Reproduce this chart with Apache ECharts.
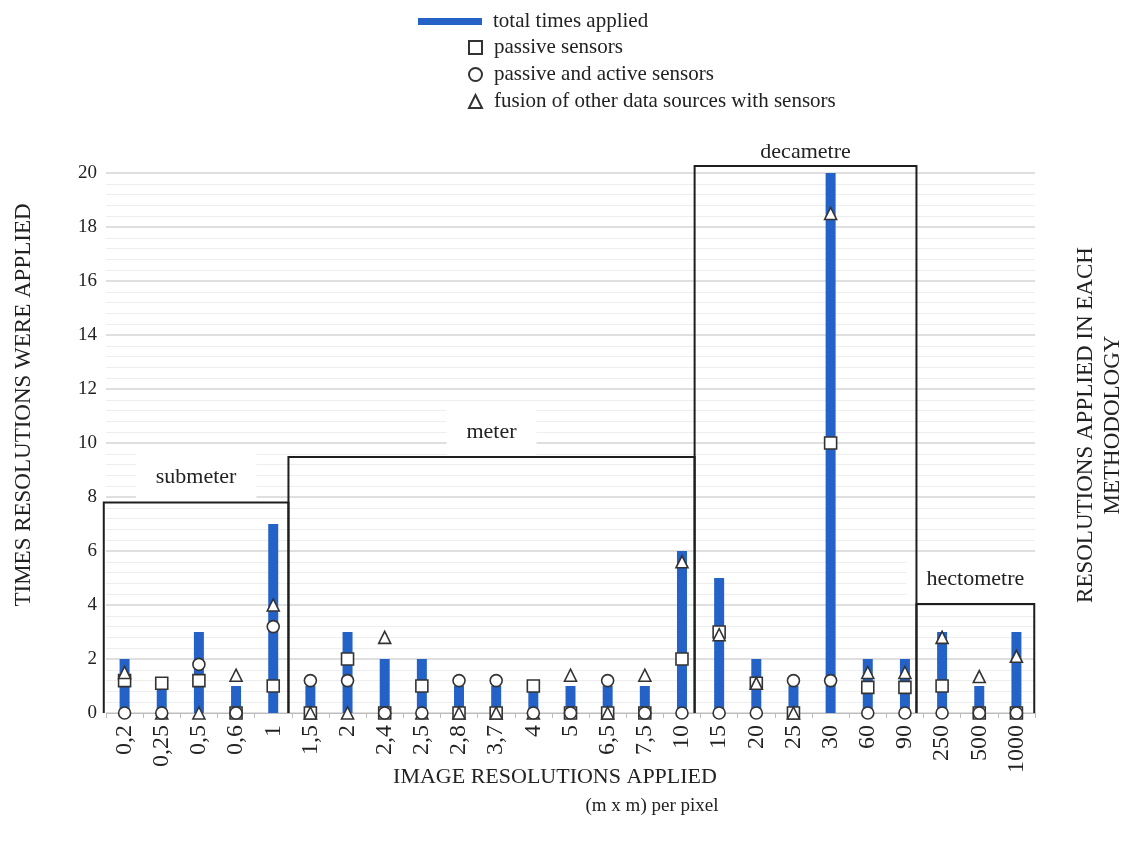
<!DOCTYPE html>
<html>
<head>
<meta charset="utf-8">
<script src="https://cdn.jsdelivr.net/npm/echarts@6/dist/echarts.min.js"></script>
<style>html,body{margin:0;padding:0;background:#fff;}#chart{width:1121px;height:850px;}</style>
</head>
<body>
<div id="chart"></div>
<script>
const categories = ['0,2','0,25','0,5','0,6','1','1,5','2','2,4','2,5','2,8','3,7','4','5','6,5','7,5','10','15','20','25','30','60','90','250','500','1000'];
const totalTimes = [2,1,3,1,7,1,3,2,2,1,1,1,1,1,1,6,5,2,1,20,2,2,3,1,3];
const passive = [1.2,1.1,1.2,0,1.0,0,2.0,0,1.0,0,0,1.0,0,0,0,2.0,3.0,1.1,0,10,0.95,0.95,1.0,0,0];
const passiveActive = [0,0,1.8,0,3.2,1.2,1.2,0,0,1.2,1.2,0,0,1.2,0,0,0,0,1.2,1.2,0,0,0,0,0];
const fusion = [1.5,0,0,1.4,4.0,0,0,2.8,0,0,0,0,1.4,0,1.4,5.6,2.9,1.1,0,18.5,1.5,1.5,2.8,1.35,2.1];
const yTicks = [0,2,4,6,8,10,12,14,16,18,20];
// resolution classes: category-index range (band edges) and box height
const boxNames = ['submeter','meter','decametre','hectometre'];
const boxStart = [-0.56, 4.41, 15.34, 21.31];
const boxEnd = [4.41, 15.34, 21.31, 24.48];
const boxHeight = [7.8, 9.48, 20.26, 4.04];

const FONT = '"Liberation Serif", "Times New Roman", serif';
const chart = echarts.init(document.getElementById('chart'));

const boxData = boxNames.map((n, i) => ({ name: n, value: [boxStart[i], boxEnd[i], boxHeight[i]] }));

const markerStyle = { color: '#ffffff', borderColor: '#333333', borderWidth: 1.6, opacity: 1 };

chart.setOption({
  animation: false,
  backgroundColor: '#ffffff',
  textStyle: { fontFamily: FONT },
  grid: { left: 106, right: 86, top: 173, bottom: 137, containLabel: false },
  legend: [
    {
      data: ['total times applied'],
      left: 413, top: 6,
      itemWidth: 64, itemHeight: 7,
      icon: 'rect',
      textStyle: { fontFamily: FONT, fontSize: 21, color: '#222', padding: [0, 0, 0, 6] }
    },
    {
      data: ['passive sensors', 'passive and active sensors', 'fusion of other data sources with sensors'],
      orient: 'vertical',
      left: 463, top: 32,
      itemWidth: 13, itemHeight: 13, itemGap: 6,
      textStyle: { fontFamily: FONT, fontSize: 21, color: '#222', padding: [0, 0, 0, 7] }
    }
  ],
  xAxis: [
    {
      type: 'category',
      data: categories,
      boundaryGap: true,
      axisLine: { show: true, lineStyle: { color: '#bdbdbd', width: 1 } },
      axisTick: { show: true, length: 5, lineStyle: { color: '#bdbdbd' } },
      axisLabel: { rotate: 90, fontFamily: FONT, fontSize: 24, color: '#222', margin: 12 },
      splitLine: { show: false }
    },
    { type: 'value', min: -0.5, max: 24.5, show: false }
  ],
  yAxis: {
    type: 'value',
    min: yTicks[0], max: yTicks[yTicks.length - 1], interval: 2,
    axisLine: { show: false },
    axisTick: { show: false },
    axisLabel: { fontFamily: FONT, fontSize: 19, color: '#222', margin: 9 },
    splitLine: { show: true, lineStyle: { color: '#d4d4d4', width: 1.5 } },
    minorTick: { show: false, splitNumber: 5 },
    minorSplitLine: { show: true, lineStyle: { color: '#eeeeee', width: 1 } }
  },
  graphic: [
    { type: 'text', x: 24, y: 405, rotation: Math.PI / 2,
      style: { text: 'TIMES RESOLUTIONS WERE APPLIED', font: '23px ' + FONT, fill: '#222', align: 'center', verticalAlign: 'middle' } },
    { type: 'text', x: 1099, y: 425, rotation: Math.PI / 2,
      style: { text: 'RESOLUTIONS APPLIED IN EACH\nMETHODOLOGY', font: '23px ' + FONT, fill: '#222', align: 'center', verticalAlign: 'middle', lineHeight: 27 } },
    { type: 'text', x: 555, y: 777,
      style: { text: 'IMAGE RESOLUTIONS APPLIED', font: '22px ' + FONT, fill: '#222', align: 'center', verticalAlign: 'middle' } },
    { type: 'text', x: 652, y: 806,
      style: { text: '(m x m) per pixel', font: '19px ' + FONT, fill: '#222', align: 'center', verticalAlign: 'middle' } }
  ],
  series: [
    {
      name: 'total times applied',
      type: 'bar',
      data: totalTimes,
      barWidth: 10,
      itemStyle: { color: '#2462c8' },
      z: 2
    },
    {
      name: 'passive sensors',
      type: 'scatter',
      symbol: 'rect',
      symbolSize: 12,
      data: passive,
      itemStyle: markerStyle,
      z: 4
    },
    {
      name: 'passive and active sensors',
      type: 'scatter',
      symbol: 'circle',
      symbolSize: 12,
      data: passiveActive,
      itemStyle: markerStyle,
      z: 6
    },
    {
      name: 'fusion of other data sources with sensors',
      type: 'scatter',
      symbol: 'triangle',
      symbolSize: 12,
      data: fusion,
      itemStyle: markerStyle,
      z: 5
    },
    {
      name: 'classes',
      type: 'custom',
      xAxisIndex: 1,
      yAxisIndex: 0,
      clip: false,
      silent: true,
      z: 3,
      data: boxData,
      renderItem: function (params, api) {
        const x0 = api.value(0), x1 = api.value(1), h = api.value(2);
        const tl = api.coord([x0, h]);
        const br = api.coord([x1, 0]);
        const cx = (tl[0] + br[0]) / 2;
        const gap = tl[1] < 200 ? 14 : 25;
        return {
          type: 'group',
          children: [
            {
              type: 'text',
              x: cx, y: tl[1] - gap,
              z2: 1,
              style: {
                text: boxNames[params.dataIndex],
                font: '22px ' + FONT,
                fill: '#222',
                align: 'center',
                verticalAlign: 'middle',
                backgroundColor: tl[1] < 200 ? 'transparent' : '#ffffff',
                padding: [14, 20, 12, 20]
              }
            },
            {
              type: 'polyline',
              z2: 2,
              shape: { points: [[tl[0], br[1]], [tl[0], tl[1]], [br[0], tl[1]], [br[0], br[1]]] },
              style: { stroke: '#1e1e1e', lineWidth: 2, fill: null }
            }
          ]
        };
      }
    }
  ]
});
</script>
</body>
</html>
